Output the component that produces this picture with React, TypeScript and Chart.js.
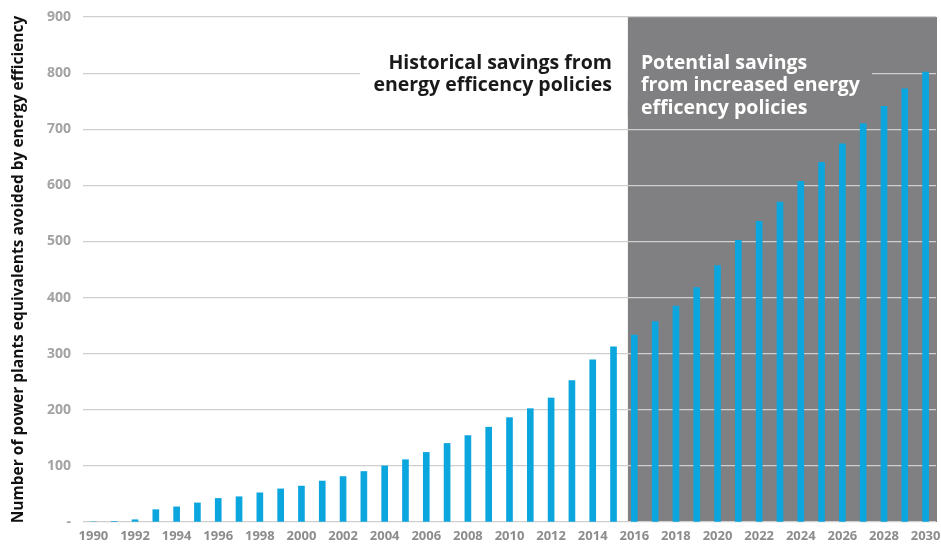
import React, { useEffect, useRef } from "react";
import { Chart, registerables } from "chart.js";

Chart.register(...registerables);

const years: string[] = [];
for (let y = 1990; y <= 2030; y++) years.push(String(y));

const savings: number[] = [
  0, 1, 4, 22, 27, 34, 42, 45, 52, 59,
  64, 73, 81, 90, 100, 111, 124, 140, 154, 169,
  186, 202, 221, 252, 289, 312, 333, 357, 385, 418,
  457, 502, 536, 570, 607, 641, 674, 710, 741, 772,
  802,
];

const yTicks = [0, 100, 200, 300, 400, 500, 600, 700, 800, 900];
const historicalLines = ["Historical savings from", "energy efficency policies"];
const potentialLines = ["Potential savings", "from increased energy", "efficency policies"];
const yTitle = "Number of power plants equivalents avoided by energy efficiency";
const projectionStart = "2016";

const FONT = "'Open Sans', 'Noto Sans', sans-serif";
const BLUE = "#0ca6de";
const GRAY = "#808082";

const regionPlugin = {
  id: "regionPlugin",
  beforeDraw(chart: any) {
    const { ctx, chartArea, scales } = chart;
    const x = scales.x;
    const y = scales.y;
    const idx = years.indexOf(projectionStart);
    const cat = x.getPixelForValue(1) - x.getPixelForValue(0);
    const left = x.getPixelForValue(idx) - 0.31 * cat;
    const top = y.getPixelForValue(900);
    ctx.save();
    ctx.fillStyle = GRAY;
    ctx.fillRect(left, top, chartArea.right + 1 - left, chartArea.bottom - top);
    ctx.restore();
  },
  afterDatasetsDraw(chart: any) {
    const { ctx, scales } = chart;
    const x = scales.x;
    const y = scales.y;
    const idx = years.indexOf(projectionStart);
    const cat = x.getPixelForValue(1) - x.getPixelForValue(0);
    const split = x.getPixelForValue(idx) - 0.31 * cat;
    const y800 = y.getPixelForValue(800);
    ctx.save();
    // white box behind historical text
    ctx.fillStyle = "#ffffff";
    ctx.fillRect(split - 268, y800 - 28, 268, 56);
    // gray box behind potential text
    ctx.fillStyle = GRAY;
    ctx.fillRect(split, y800 - 28, 244, 72);

    ctx.font = `bold 19.5px ${FONT}`;
    ctx.textBaseline = "alphabetic";
    ctx.fillStyle = "#1a1a1a";
    ctx.textAlign = "right";
    historicalLines.forEach((t, i) => {
      ctx.fillText(t, split - 16, y800 - 4 + i * 21.5);
    });
    ctx.fillStyle = "#ffffff";
    ctx.textAlign = "left";
    potentialLines.forEach((t, i) => {
      ctx.fillText(t, split + 13, y800 - 4 + i * 22.3);
    });
    ctx.restore();
  },
};

export default function App() {
  const ref = useRef<HTMLCanvasElement>(null);
  useEffect(() => {
    document.body.style.margin = "0";
    const canvas = ref.current!;
    const chart = new Chart(canvas, {
      type: "bar",
      data: {
        labels: years,
        datasets: [
          {
            data: savings,
            backgroundColor: BLUE,
            barThickness: 6,
            borderWidth: 0,
          },
        ],
      },
      options: {
        animation: false,
        responsive: false,
        maintainAspectRatio: false,
        layout: { padding: { left: 0, right: 5, top: 17, bottom: 0 } },
        plugins: { legend: { display: false }, tooltip: { enabled: false } },
        scales: {
          x: {
            grid: { display: false, drawTicks: false },
            border: { display: false },
            afterFit: (s: any) => {
              s.height = 22;
              s.paddingLeft = 0;
              s.paddingRight = 0;
            },
            ticks: {
              autoSkip: false,
              maxRotation: 0,
              minRotation: 0,
              padding: 6,
              color: "#8c8c8c",
              font: { family: FONT, size: 13, weight: "bold" },
              callback: (_v: any, i: number) => (i % 2 === 0 ? years[i] : ""),
            },
          },
          y: {
            min: 0,
            max: 900,
            afterBuildTicks: (s: any) => {
              s.ticks = yTicks.map((v) => ({ value: v }));
            },
            afterFit: (s: any) => {
              s.width = 83;
              s.paddingTop = 0;
              s.paddingBottom = 0;
            },
            grid: { color: "#cfcfcf", lineWidth: 1.2, drawTicks: false },
            border: { display: false },
            title: {
              display: true,
              text: yTitle,
              color: "#111111",
              font: { family: FONT, size: 15.5, weight: "bold" },
              padding: { top: 9, bottom: 0 },
            },
            ticks: {
              padding: 12,
              color: "#a3a3a3",
              font: { family: FONT, size: 14, weight: "bold" },
              callback: (v: any) => (v === 0 ? "-" : String(v)),
            },
          },
        },
      },
      plugins: [regionPlugin],
    });
    return () => chart.destroy();
  }, []);
  return (
    <div style={{ width: 941, height: 544, background: "#fff" }}>
      <canvas ref={ref} width={941} height={544} style={{ display: "block" }} />
    </div>
  );
}
